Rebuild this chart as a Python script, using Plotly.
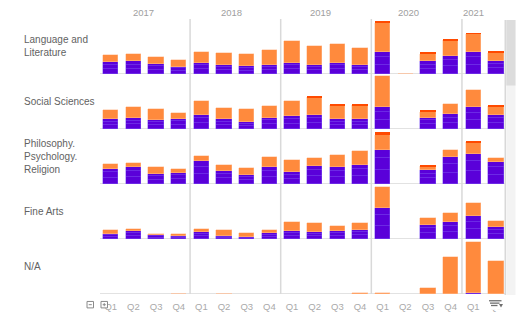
import plotly.graph_objects as go
from plotly.subplots import make_subplots

# ---- data -------------------------------------------------------------
years = ["2017", "2018", "2019", "2020", "2021"]
quarters = ["Q1", "Q2", "Q3", "Q4"] * 4 + ["Q1", "Q2"]
categories = ["Language and<br>Literature", "Social Sciences",
              "Philosophy.<br>Psychology.<br>Religion", "Fine Arts", "N/A"]

# Language and Literature
lang_p1 = [5.0, 5.2, 4.4, 3.1, 4.8, 3.9, 3.5, 3.9, 4.7, 4.0, 4.8, 3.6, 9.3, 0, 5.0, 7.8, 9.5, 5.6]
lang_p2 = [4.3, 4.2, 3.6, 2.6, 3.9, 3.2, 2.9, 3.3, 4.0, 3.2, 3.8, 3.0, 7.6, 0, 3.6, 6.3, 7.8, 4.6]
lang_p3 = [3.0, 3.2, 2.3, 1.6, 2.6, 2.2, 1.9, 2.1, 2.6, 2.1, 2.7, 2.0, 5.1, 0, 4.0, 4.2, 5.3, 3.1]
lang_orange = [7.0, 7.7, 7.3, 7.0, 10.7, 11.7, 12.0, 15.0, 22.0, 19.0, 19.0, 17.4, 29.4, 0.4, 7.7, 15.7, 17.9, 8.3]
lang_red = [0, 0, 0, 0, 0, 0, 0, 0, 0, 0, 0, 0, 1.2, 0, 1.0, 1.0, 0.5, 1.7]

# Social Sciences
soc_p1 = [4.1, 4.6, 3.8, 4.4, 6.0, 4.1, 3.0, 4.8, 5.3, 6.1, 4.0, 4.1, 9.4, 0, 4.7, 6.3, 9.1, 6.0]
soc_p2 = [3.3, 3.8, 3.1, 3.5, 4.9, 3.3, 2.5, 3.9, 4.4, 4.9, 3.4, 3.3, 7.7, 0, 3.9, 5.2, 7.5, 4.9]
soc_p3 = [2.3, 2.6, 2.1, 2.4, 3.4, 2.3, 1.8, 2.6, 3.0, 3.3, 2.3, 2.3, 5.2, 0, 2.7, 3.5, 5.1, 3.4]
soc_orange = [9.3, 11.3, 10.7, 6.0, 13.7, 11.6, 12.4, 12.0, 15.6, 17.9, 14.3, 14.3, 31.0, 0, 6.2, 10.0, 17.6, 8.4]
soc_red = [0, 0, 0, 0, 0, 0, 0, 0, 0, 0.8, 1.0, 1.0, 0, 0, 0.8, 0, 0, 1.3]

# Philosophy. Psychology. Religion
phil_p1 = [6.5, 7.2, 4.2, 4.8, 9.7, 5.6, 3.7, 7.1, 5.1, 7.6, 7.2, 8.1, 14.5, 0, 5.8, 11.3, 12.8, 9.3]
phil_p2 = [5.2, 5.8, 3.4, 3.9, 7.9, 4.6, 3.0, 5.8, 4.1, 6.2, 5.8, 6.6, 11.7, 0, 4.7, 9.1, 10.4, 7.5]
phil_p3 = [3.6, 4.0, 2.4, 2.6, 5.4, 3.1, 2.0, 4.1, 2.8, 4.2, 4.0, 4.6, 8.1, 0, 3.2, 6.3, 7.1, 5.2]
phil_orange = [5.0, 3.7, 7.0, 4.0, 5.3, 6.0, 7.3, 9.7, 11.7, 8.0, 12.3, 14.4, 14.7, 0, 4.3, 7.6, 12.0, 4.3]
phil_red = [0, 0, 0, 0, 0, 0, 0, 0, 0, 0, 0, 0, 3.7, 0, 1.0, 0, 1.0, 0]

# Fine Arts
art_p1 = [2.0, 3.2, 1.5, 1.3, 3.0, 1.1, 0.8, 2.4, 3.4, 3.0, 3.4, 3.6, 13.1, 0, 6.2, 7.2, 9.7, 5.1]
art_p2 = [1.6, 2.6, 1.2, 1.0, 2.4, 0.9, 0.7, 1.9, 2.7, 2.4, 2.7, 3.0, 10.6, 0, 5.0, 5.8, 7.9, 4.1]
art_p3 = [1.0, 1.8, 0.9, 0.7, 1.6, 0.6, 0.5, 1.3, 1.9, 1.6, 1.9, 2.0, 7.3, 0, 3.4, 4.0, 5.4, 2.8]
art_orange = [4.0, 2.7, 1.7, 2.3, 3.3, 6.0, 4.3, 3.7, 9.0, 9.3, 5.6, 7.7, 21.6, 0, 6.7, 9.3, 13.3, 6.0]
art_red = [0] * 18

# N/A
na_p1 = [0, 0, 0, 0, 0, 0, 0, 0, 0, 0, 0, 0, 0, 0, 0, 0, 0.7, 0]
na_p2 = [0] * 18
na_p3 = [0] * 18
na_orange = [0, 0, 0, 0.5, 0, 0.5, 0, 0, 0, 0, 0, 0.7, 0.7, 0, 6.0, 37.0, 52.0, 33.7]
na_red = [0] * 18

rows = [
    (lang_p1, lang_p2, lang_p3, lang_orange, lang_red),
    (soc_p1, soc_p2, soc_p3, soc_orange, soc_red),
    (phil_p1, phil_p2, phil_p3, phil_orange, phil_red),
    (art_p1, art_p2, art_p3, art_orange, art_red),
    (na_p1, na_p2, na_p3, na_orange, na_red),
]

# ---- styling -----------------------------------------------------------
W, H = 516, 322
L, R, T, B = 100, 10.5, 19, 26
PURPLE = "#5a00d9"
PURPLE_EDGE = "rgba(130,90,245,0.75)"
ORANGE = "#ff8a3d"
ORANGE_EDGE = "rgba(255,190,150,0.8)"
RED = "#ff4a00"
GRID = "#d9d9d9"
FONT = "Liberation Sans, Arial, sans-serif"
BAR_W = 0.675
Y_MAX = 55.4
year_label_x = [1.44, 5.34, 9.25, 13.13, 16.01]
year_breaks = [3.5, 7.5, 11.5, 15.5]

plot_w = W - L - R
plot_h = H - T - B


def px_x(v):
    return (v - L) / plot_w


def px_y(v):
    return (H - B - v) / plot_h


def nonzero(vals):
    # empty quarters get no bar at all (avoids hairline outlines at the baseline)
    return [v if v else None for v in vals]


fig = make_subplots(rows=5, cols=1, shared_xaxes=True, vertical_spacing=0)
xs = list(range(len(quarters)))

for r, (p1, p2, p3, orange, red) in enumerate(rows, start=1):
    for vals, color, edge, lw in [(p1, PURPLE, PURPLE_EDGE, 0.6), (p2, PURPLE, PURPLE_EDGE, 0.6),
                                  (p3, PURPLE, PURPLE_EDGE, 0.6), (orange, ORANGE, ORANGE_EDGE, 0.6),
                                  (red, RED, RED, 0)]:
        fig.add_trace(go.Bar(x=xs, y=nonzero(vals), width=BAR_W,
                             marker=dict(color=color, line=dict(color=edge, width=lw)),
                             showlegend=False, hoverinfo="skip"), row=r, col=1)
    fig.update_yaxes(range=[0, Y_MAX], visible=False, fixedrange=True, row=r, col=1)

fig.update_xaxes(range=[-0.476, 17.4], showgrid=False, zeroline=False, showline=False,
                 tickmode="array", tickvals=xs, ticktext=quarters, ticks="",
                 ticklabelstandoff=5,
                 tickfont=dict(family=FONT, size=9.5, color="#aaaaaa"), fixedrange=True)

shapes = []
# row baselines
for r in range(1, 6):
    yref = "y" if r == 1 else f"y{r}"
    shapes.append(dict(type="line", xref="paper", yref=yref, x0=0, x1=1, y0=0, y1=0,
                       line=dict(color=GRID, width=1.5), layer="below"))
# year separators
for xb in year_breaks:
    shapes.append(dict(type="line", xref="x", yref="paper", x0=xb, x1=xb, y0=0, y1=1,
                       line=dict(color=GRID, width=1.5), layer="below"))
# right edge + scrollbar
shapes.append(dict(type="line", xref="paper", yref="paper", x0=px_x(505.7), x1=px_x(505.7),
                   y0=px_y(297), y1=px_y(20), line=dict(color="#cfcfcf", width=1.2)))
shapes.append(dict(type="rect", xref="paper", yref="paper", x0=px_x(506.8), x1=px_x(516),
                   y0=px_y(297), y1=px_y(20), fillcolor="#f3f3f3", line=dict(width=0)))
shapes.append(dict(type="rect", xref="paper", yref="paper", x0=px_x(506.8), x1=px_x(516),
                   y0=px_y(86), y1=px_y(20), fillcolor="#dcdcdc", line=dict(width=0)))
# collapse / expand buttons
for x0, plus in [(87, False), (101, True)]:
    shapes.append(dict(type="rect", xref="paper", yref="paper", x0=px_x(x0), x1=px_x(x0 + 6.5),
                       y0=px_y(310), y1=px_y(303.5), fillcolor="white",
                       line=dict(color="#8a8a8a", width=1), layer="above"))
    shapes.append(dict(type="line", xref="paper", yref="paper", x0=px_x(x0 + 1.7), x1=px_x(x0 + 4.8),
                       y0=px_y(306.75), y1=px_y(306.75), line=dict(color="#8a8a8a", width=1)))
    if plus:
        shapes.append(dict(type="line", xref="paper", yref="paper", x0=px_x(x0 + 3.25), x1=px_x(x0 + 3.25),
                           y0=px_y(305.2), y1=px_y(308.3), line=dict(color="#8a8a8a", width=1)))
# sort / filter icon
shapes.append(dict(type="rect", xref="paper", yref="paper", x0=px_x(488.5), x1=px_x(505),
                   y0=px_y(312), y1=px_y(300.5), fillcolor="white", line=dict(width=0), layer="above"))
for yy, xa, xb in [(302.8, 489.5, 502), (305.2, 490.5, 500), (307.6, 491.5, 498)]:
    shapes.append(dict(type="line", xref="paper", yref="paper", x0=px_x(xa), x1=px_x(xb),
                       y0=px_y(yy), y1=px_y(yy), line=dict(color="#6f6f6f", width=1.3)))
shapes.append(dict(type="path", xref="paper", yref="paper",
                   path=f"M {px_x(499.5)} {px_y(306)} L {px_x(503.5)} {px_y(306)} "
                        f"L {px_x(501.5)} {px_y(309.5)} Z",
                   fillcolor="#6f6f6f", line=dict(width=0)))

annotations = []
for name, xv in zip(years, year_label_x):
    annotations.append(dict(text=name, xref="x", yref="paper", x=xv, y=px_y(12),
                            xanchor="center", yanchor="middle", showarrow=False,
                            font=dict(family=FONT, size=9.5, color="#a0a0a0")))
for i, cat in enumerate(categories):
    annotations.append(dict(text=cat, xref="paper", yref="paper", x=px_x(22),
                            y=1 - (i + 0.5) / 5, xanchor="left", yanchor="middle",
                            align="left", showarrow=False,
                            font=dict(family=FONT, size=10, color="#626262")))

fig.update_layout(width=W, height=H, margin=dict(l=L, r=R, t=T, b=B, pad=0),
                  paper_bgcolor="white", plot_bgcolor="white", barmode="stack",
                  bargap=0, shapes=shapes, annotations=annotations,
                  font=dict(family=FONT))

fig.write_html("out.html", config={"displayModeBar": False})
